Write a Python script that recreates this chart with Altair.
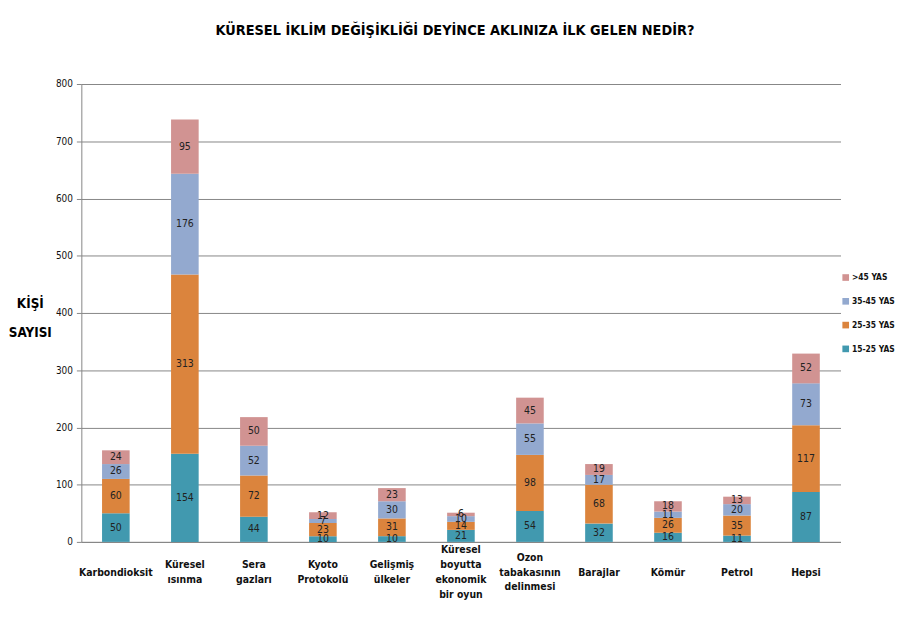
import altair as alt
import pandas as pd

categories = [
    "Karbondioksit", "Küresel|ısınma", "Sera|gazları", "Kyoto|Protokolü",
    "Gelişmiş|ülkeler", "Küresel|boyutta|ekonomik|bir oyun", "Ozon|tabakasının|delinmesi",
    "Barajlar", "Kömür", "Petrol", "Hepsi",
]
groups = ["15-25 YAS", "25-35 YAS", "35-45 YAS", ">45 YAS"]
v_15_25 = [50, 154, 44, 10, 10, 21, 54, 32, 16, 11, 87]
v_25_35 = [60, 313, 72, 23, 31, 14, 98, 68, 26, 35, 117]
v_35_45 = [26, 176, 52, 7, 30, 10, 55, 17, 11, 20, 73]
v_45 = [24, 95, 50, 12, 23, 6, 45, 19, 18, 13, 52]
colors = ["#4199AF", "#DB843D", "#93A9CF", "#D19392"]

rows = []
for gi, (g, vals) in enumerate(zip(groups, [v_15_25, v_25_35, v_35_45, v_45])):
    for c, v in zip(categories, vals):
        rows.append({"cat": c, "grp": g, "ord": gi, "val": v})
df = pd.DataFrame(rows)

# vertically centred multi-line axis labels (half-line steps, padded with zero-width spaces)
SP = "\u200b"
label_map = {}
for c in categories:
    parts = c.split("|")
    out = [SP] * (4 - len(parts))
    for i, p in enumerate(parts):
        if i:
            out.append(SP)
        out.append(p)
    label_map[c] = "|".join(out)
label_expr = "split({" + ",".join("'%s':'%s'" % (k, v) for k, v in label_map.items()) + "}[datum.label], '|')"

FONT = "DejaVu Sans Condensed, Roboto, sans-serif"

base = alt.Chart(df).transform_stack(
    stack="val", groupby=["cat"], as_=["y0", "y1"], sort=[alt.SortField("ord", order="ascending")]
).transform_calculate(mid="(datum.y0 + datum.y1) / 2")

x_enc = alt.X(
    "cat:N", sort=categories, title=None,
    scale=alt.Scale(paddingInner=0.6, paddingOuter=0.3),
    axis=alt.Axis(
        labelExpr=label_expr, labelAngle=0, labelBaseline="middle",
        labelPadding=8, ticks=False, labelFont=FONT, labelFontSize=10.5, labelFontWeight="bold",
        labelLineHeight=7.5, labelColor="#111", domainColor="#868686", labelLimit=200,
    ),
)

bars = base.mark_bar().encode(
    x=x_enc,
    y=alt.Y(
        "y0:Q", title=["KİŞİ", "SAYISI"],
        scale=alt.Scale(domain=[0, 800]),
        axis=alt.Axis(
            values=list(range(0, 801, 100)), gridColor="#868686", domainColor="#868686",
            tickColor="#868686", tickSize=5, labelFont=FONT, labelFontSize=10, labelColor="#111",
            labelPadding=4, titleAngle=0, titleX=-52, titleY=221, titleAlign="center",
            titleBaseline="middle", titleFont=FONT, titleFontSize=13.5, titleFontWeight="bold",
            titleLineHeight=30, titleColor="#000",
        ),
    ),
    y2="y1:Q",
    color=alt.Color(
        "grp:N",
        scale=alt.Scale(domain=groups[::-1], range=colors[::-1]),
        legend=alt.Legend(
            title=None, orient="none", legendX=767, legendY=191, symbolType="square",
            symbolSize=45, labelFont=FONT, labelFontSize=8.5, labelFontWeight="bold",
            rowPadding=15, symbolStrokeWidth=0, labelColor="#111", labelOffset=2,
        ),
    ),
)

labels = base.mark_text(font=FONT, fontSize=10.5, color="#222").encode(
    x=alt.X("cat:N", sort=categories),
    y=alt.Y("mid:Q"),
    text="val:Q",
)

chart = alt.layer(bars, labels).properties(
    width=766, height=462,
    title=alt.TitleParams(
        "KÜRESEL İKLİM DEĞİŞİKLİĞİ DEYİNCE AKLINIZA İLK GELEN NEDİR?",
        font=FONT, fontSize=14.5, fontWeight="bold", color="#000", dx=-6, offset=41,
    ),
    autosize=alt.AutoSizeParams(type="none"),
    padding={"left": 74, "top": 74, "right": 57, "bottom": 64},
).configure_view(stroke=None).configure_axis(grid=True).configure_axisX(grid=False)

chart.save("out.html", embed_options={"renderer": "svg", "actions": False})
